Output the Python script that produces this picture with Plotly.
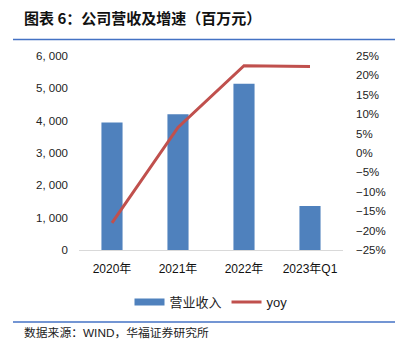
import plotly.graph_objects as go

categories = ["2020年", "2021年", "2022年", "2023年Q1"]
revenue = [3940, 4200, 5140, 1360]
yoy = [-18.0, 6.6, 22.5, 22.3]

left_ticks = [0, 1000, 2000, 3000, 4000, 5000, 6000]
left_text = ["0", "1, 000", "2, 000", "3, 000", "4, 000", "5, 000", "6, 000"]
right_ticks = [-25, -20, -15, -10, -5, 0, 5, 10, 15, 20, 25]
right_text = [("\u2212" + str(-v) if v < 0 else str(v)) + "%" for v in right_ticks]

W, H = 408, 354
L, R, T, B = 79, 65, 56, 104
pw, ph = W - L - R, H - T - B

def px(x):
    return (x - L) / pw

def py(y):
    return (H - B - y) / ph

FONT = "Liberation Sans, Arial, Noto Sans CJK SC, sans-serif"
BLUE = "#4F81BD"
RED = "#C0504D"

fig = go.Figure()
fig.add_trace(go.Bar(x=categories, y=revenue, name="营业收入", marker_color=BLUE,
                     marker_line_width=0, width=0.32, yaxis="y", showlegend=False,
                     legendgroup="rev"))
# legend proxy giving the wide rectangular swatch of the original
fig.add_trace(go.Scatter(x=[None], y=[None], name="营业收入", mode="lines",
                         line=dict(color=BLUE, width=7), legendgroup="rev"))
fig.add_trace(go.Scatter(x=categories, y=yoy, name="yoy", mode="lines",
                         line=dict(color=RED, width=3), yaxis="y2"))

fig.update_layout(
    width=W, height=H,
    margin=dict(l=L, r=R, t=T, b=B, pad=0),
    paper_bgcolor="white", plot_bgcolor="white",
    font=dict(family=FONT, size=12, color="#222"),
    bargap=0.68,
    xaxis=dict(showgrid=False, showline=True, linecolor="#d9d9d9", linewidth=1,
               ticks="", tickfont=dict(size=12, color="#111"), ticklabelstandoff=8),
    yaxis=dict(range=[0, 6000], tickvals=left_ticks, ticktext=left_text,
               showgrid=False, zeroline=False, showline=False, ticks="",
               tickfont=dict(size=11.5, color="#222"), ticklabelstandoff=10),
    yaxis2=dict(range=[-25, 25], tickvals=right_ticks, ticktext=right_text,
                overlaying="y", side="right", showgrid=False, zeroline=False,
                showline=False, ticks="", tickfont=dict(size=11.5, color="#222"),
                ticklabelstandoff=12),
    legend=dict(orientation="h", x=0.5, xanchor="center", y=py(302), yanchor="middle",
                font=dict(size=13, color="#222"), itemwidth=30, bgcolor="rgba(0,0,0,0)"),
    showlegend=True,
)

fig.add_annotation(text="<b>图表 6：公司营收及增速（百万元）</b>", xref="paper", yref="paper",
                   x=px(22), y=py(17), xanchor="left", yanchor="middle", showarrow=False,
                   font=dict(size=15, color="#111", family="Noto Sans CJK SC, sans-serif"))
fig.add_annotation(text="数据来源：WIND，华福证券研究所", xref="paper", yref="paper",
                   x=px(22), y=py(333), xanchor="left", yanchor="middle", showarrow=False,
                   font=dict(size=11.8, color="#222", family=FONT))
for yy in (39.5, 322):
    fig.add_shape(type="line", xref="paper", yref="paper", x0=px(13), x1=px(395),
                  y0=py(yy), y1=py(yy), line=dict(color="#4472C4", width=1.5))

fig.write_html("out.html")
